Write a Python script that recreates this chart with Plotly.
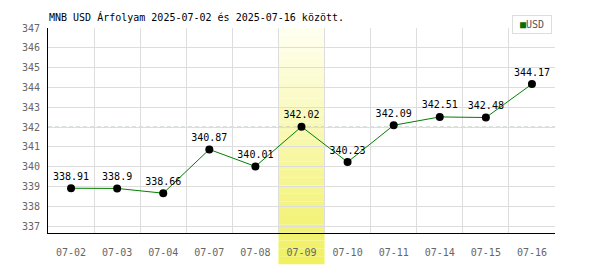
import plotly.graph_objects as go

dates = ["07-02", "07-03", "07-04", "07-07", "07-08", "07-09", "07-10", "07-11", "07-14", "07-15", "07-16"]
usd = [338.91, 338.9, 338.66, 340.87, 340.01, 342.02, 340.23, 342.09, 342.51, 342.48, 344.17]
labels = ["338.91", "338.9", "338.66", "340.87", "340.01", "342.02", "340.23", "342.09", "342.51", "342.48", "344.17"]
y_ticks = [337, 338, 339, 340, 341, 342, 343, 344, 345, 346, 347]
highlight = "07-09"
ref_level = 342

FONT = "DejaVu Sans Mono"
L, R, T, B = 48, 45, 28, 32
W, H = 600, 270
PW, PH = W - L - R, H - T - B


def px_x(px):
    return (px - L) / PW


def px_y(py):
    return (H - B - py) / PH


fig = go.Figure()
fig.add_trace(go.Scatter(
    x=dates, y=usd, mode="lines+markers+text",
    text=labels, textposition="top center",
    textfont=dict(family=FONT, size=10, color="black"),
    line=dict(color="#008000", width=1),
    marker=dict(color="black", size=8),
    showlegend=False, cliponaxis=False,
))

# highlight band (simulated vertical gradient)
hi = dates.index(highlight)
n = 30
top = (255, 255, 242)
bot = (240, 240, 96)
y_bottom = px_y(H)
for k in range(n):
    f0 = k / n
    f1 = (k + 1) / n
    t = (k + 0.5) / n
    c = tuple(round(top[j] + (bot[j] - top[j]) * t) for j in range(3))
    fig.add_shape(type="rect", xref="x", yref="paper",
                  x0=hi - 0.5, x1=hi + 0.5,
                  y0=1 - (1 - y_bottom) * f1, y1=1 - (1 - y_bottom) * f0,
                  fillcolor="rgb(%d,%d,%d)" % c, line=dict(width=0), layer="below")

fig.add_shape(type="line", xref="paper", yref="y", x0=0, x1=1, y0=ref_level, y1=ref_level,
              line=dict(color="#b4c2b4", width=1, dash="4px,3px"), layer="below")

fig.add_annotation(xref="paper", yref="paper", x=px_x(47), y=px_y(17),
                   xanchor="left", yanchor="middle", showarrow=False,
                   text="MNB USD Árfolyam 2025-07-02 és 2025-07-16 között.",
                   font=dict(family=FONT, size=10, color="black"))

fig.add_annotation(xref="paper", yref="paper", x=px_x(532), y=px_y(24),
                   xanchor="center", yanchor="middle", showarrow=False,
                   text="<span style='color:#007000'>■</span>USD",
                   width=36, height=15, align="center",
                   font=dict(family=FONT, size=10, color="#555555"),
                   bordercolor="#dddddd", borderwidth=1, borderpad=1, bgcolor="white")

fig.update_layout(
    width=W, height=H,
    margin=dict(l=L, r=R, t=T, b=B),
    paper_bgcolor="white", plot_bgcolor="white",
    xaxis=dict(type="category", tickson="boundaries", showgrid=True, gridcolor="#dddddd",
               showline=True, linecolor="black", linewidth=1, ticks="",
               tickfont=dict(family=FONT, size=10, color="#666666"),
               ticklabelstandoff=10, range=[-0.5, len(dates) - 0.5], zeroline=False),
    yaxis=dict(range=[336.65, 347], tickvals=y_ticks, showgrid=True, gridcolor="#dddddd",
               showline=True, linecolor="black", linewidth=1, ticks="",
               tickfont=dict(family=FONT, size=10, color="#666666"),
               ticklabelstandoff=5, zeroline=False),
    showlegend=False,
)

fig.write_html("out.html")
